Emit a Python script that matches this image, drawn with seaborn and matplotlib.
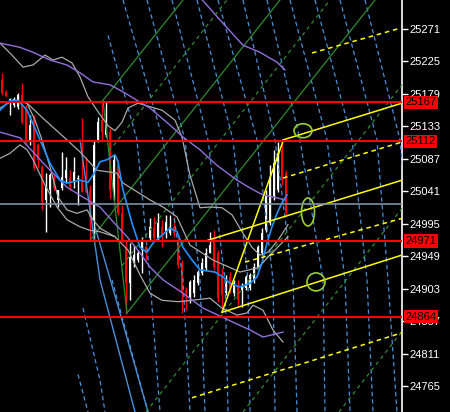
import pandas as pd
import matplotlib
matplotlib.use("Agg")
import matplotlib.pyplot as plt
import matplotlib.transforms as mtransforms
from matplotlib.patches import Ellipse
import seaborn as sns

plt.rcParams['font.family'] = ['Liberation Sans Narrow', 'DejaVu Sans Condensed', 'Liberation Sans']

# --- candles (bar index 0..71) ---
opens = [25199, 25182, 25166, 25163, 25160, 25178, 25161, 25111, 25145, 25107,
         25076, 25029, 25043, 25062, 25029, 25046, 25060, 25060, 25054, 25059,
         25057, 25053, 25043, 25001, 25114, 25142, 25121, 25125, 25040, 25079,
         25011, 24962, 24911, 24940, 24944, 24958, 24962, 24975, 24990, 24975,
         24991, 24982, 24982, 24991, 24972, 24940, 24902, 24892, 24897, 24911,
         24926, 24933, 24954, 24969, 24954, 24923, 24897, 24920, 24897, 24909,
         24902, 24904, 24904, 24916, 24934, 24954, 24986, 24996, 25034, 25043,
         25100, 25067]
highs = [25209, 25185, 25173, 25175, 25181, 25195, 25163, 25149, 25149, 25110,
         25079, 25067, 25067, 25064, 25043, 25097, 25090, 25071, 25090, 25064,
         25145, 25090, 25050, 25114, 25146, 25171, 25168, 25131, 25093, 25086,
         25022, 24972, 24968, 24965, 24958, 24977, 24965, 25004, 25005, 25011,
         25001, 25008, 25008, 25005, 24979, 24944, 24906, 24916, 24923, 24930,
         24947, 24961, 24984, 24986, 24958, 24933, 24923, 24927, 24916, 24916,
         24911, 24923, 24926, 24940, 24965, 24989, 25043, 25079, 25100, 25111,
         25114, 25071]
lows = [25178, 25175, 25149, 25160, 25158, 25137, 25107, 25107, 25071, 25074,
        25015, 24984, 25019, 25043, 25019, 25043, 25053, 25043, 25046, 25022,
        25040, 25039, 24972, 24972, 25111, 25111, 25118, 25032, 25029, 25008,
        24969, 24868, 24887, 24934, 24941, 24926, 24944, 24972, 24972, 24972,
        24962, 24975, 24979, 24977, 24933, 24869, 24873, 24883, 24892, 24909,
        24923, 24930, 24954, 24930, 24885, 24878, 24895, 24897, 24893, 24878,
        24878, 24902, 24902, 24911, 24933, 24951, 24984, 24994, 25029, 25040,
        25050, 25008]
closes = [25181, 25176, 25172, 25172, 25178, 25139, 25111, 25135, 25074, 25086,
          25026, 25047, 25064, 25046, 25043, 25062, 25071, 25047, 25069, 25060,
          25040, 25040, 25005, 25107, 25139, 25125, 25138, 25043, 25086, 25011,
          24972, 24911, 24948, 24951, 24954, 24969, 24954, 24991, 24975, 24996,
          24977, 24998, 24991, 24982, 24937, 24897, 24897, 24913, 24916, 24927,
          24940, 24954, 24965, 24934, 24890, 24895, 24911, 24902, 24911, 24887,
          24906, 24920, 24923, 24934, 24962, 24982, 25036, 25062, 25081, 25095,
          25057, 25011]

# --- indicator lines (bar, price) ---
ma_bars = [-0.5, 2, 4, 6.25, 9.5, 12, 14.5, 16.25, 19.5, 21.5, 22.75, 24.5, 26.25,
           28.25, 29, 30.25, 32.5, 34.5, 36.25, 37.75, 40, 42, 43.75, 45.25, 47.5,
           49.5, 53.25, 55.25, 57, 59.5, 62, 63.75, 65, 66.25, 67.5, 68.75, 70, 71.25]
ma_vals = [25156, 25170, 25170, 25156, 25114, 25081, 25057, 25053, 25057, 25054,
           25064, 25083, 25086, 25093, 25083, 25043, 24996, 24962, 24955, 24968,
           24979, 24989, 24984, 24962, 24944, 24930, 24927, 24920, 24911, 24906,
           24911, 24920, 24940, 24968, 24991, 25010, 25025, 25036]

band_up_bars = [-0.5, 2.5, 5.25, 7.75, 10.75, 12.75, 15, 17.5, 19.5, 21.5, 23.75, 26.5,
                28.25, 30, 31.5, 34, 37, 40, 43.25, 45, 47, 49.5, 52, 55, 57.5, 60,
                62.5, 64.5, 66.5, 69, 71.5]
band_up_vals = [25251, 25234, 25217, 25220, 25234, 25227, 25231, 25223, 25203, 25175,
                25156, 25134, 25127, 25139, 25159, 25166, 25161, 25156, 25142, 25118,
                25064, 25018, 25019, 25018, 25008, 24984, 24962, 24951, 24955, 24972,
                24994]
band_mid_bars = [6.25, 10.75, 16.25, 19.5, 23.75, 28.75, 30.25, 37, 40.25, 43.75, 47,
                 52.75, 59.5, 64, 67, 71.5]
band_mid_vals = [25166, 25142, 25114, 25097, 25071, 25067, 25053, 25029, 25019, 25005,
                 24965, 24944, 24927, 24933, 24951, 24977]
band_lo_bars = [-0.5, 2.75, 6.25, 8.25, 10, 12, 14, 16.25, 18.75, 21.25, 22.75, 24.5,
                28.25, 31.5, 34.5, 37, 40, 44, 47.5, 52, 55, 58.75, 61.25, 62.75,
                65.25, 67.75, 70.25]
band_lo_vals = [25159, 25170, 25166, 25142, 25114, 25076, 25033, 25015, 25010, 25015,
                25001, 24989, 24977, 24958, 24923, 24897, 24887, 24885, 24887, 24890,
                24876, 24866, 24869, 24880, 24873, 24845, 24828]
band_lo2_bars = [-0.5, 2, 4.5, 6.25, 7.75, 10.75, 13.75, 16.25, 19.5, 22, 24.5, 28.25]
band_lo2_vals = [25088, 25095, 25107, 25100, 25086, 25050, 25019, 25001, 24991, 24986,
                 24984, 24977]

slow_top_bars = [49, 55.25, 60.25, 64.5, 68.75, 70.75]
slow_top_vals = [25319, 25279, 25248, 25238, 25224, 25213]
slow_mid_bars = [-0.5, 4.5, 7.75, 12, 16.25, 19.5, 22.75, 27, 30.25, 33.75, 37, 42,
                 45.25, 49.5, 53.75, 58.75, 62, 65.25, 68.75, 70.75]
slow_mid_vals = [25251, 25245, 25238, 25227, 25220, 25209, 25196, 25192, 25182, 25170,
                 25159, 25135, 25118, 25100, 25078, 25057, 25046, 25036, 25032, 25029]
slow_lo_bars = [-0.5, 4.5, 7.75, 12, 16.25, 20.25, 24.5, 27, 31.25, 34.5, 37, 40.25,
                45.25, 50.25, 57.75, 62, 65.25, 70.25]
slow_lo_vals = [25125, 25117, 25097, 25071, 25047, 25033, 25019, 25003, 24977, 24954,
                24934, 24916, 24897, 24876, 24856, 24845, 24835, 24842]

# --- horizontal levels ---
red_levels = [25167, 25112, 24971, 24864]
gray_level = 25023
tick_vals = [25271, 25225, 25179, 25133, 25087, 25041, 24995, 24949, 24903, 24857,
             24811, 24765]

# --- drawn objects ---
fan_prices = [25312, 25114, 24916, 24729]
fan_bars = [[30.25, 40.25, 45.25, 47], [36.25, 45.75, 49.5, 50.75],
            [42.5, 51.5, 55.75, 56.5], [48.75, 57.75, 61.5, 62],
            [54, 63.75, 67.75, 68.25], [60.25, 68.25, 72.75, 73.75],
            [66.25, 74.5, 80.25, 80.75], [72, 81.25, 85.75, 87],
            [78.25, 87.5, 91.25, 92.75], [84.5, 93.75, 96.5, 98.75],
            [90.75, 99.5, 103, 105]]
left_dashed = [([26.5, 33.75, 37, 39.5], [25262, 25114, 24916, 24729]),
               ([27.5, 36.5], [24916, 24729]),
               ([20.25, 24.5, 25.75], [24876, 24774, 24729]),
               ([19, 21.5], [24782, 24729])]
left_solid = [([19.5, 24.5, 33.25], [25114, 24916, 24729]),
              ([23.25, 30, 36.5], [24991, 24859, 24729])]

green_solid = [([31.25, 93.25], [24869, 25312]), ([25.25, 45.25], [25170, 25312]),
               ([22, 69.5], [24972, 25312]), ([31.25, 25.25], [24869, 25170])]
green_dashed = [([26.75, 56.25], [25098, 25312]), ([30, 82], [24936, 25312]),
                ([36, 100], [24729, 25192]), ([60.25, 100], [24729, 25017]),
                ([84.25, 100], [24729, 24843])]

yellow_solid = [([70.25, 100], [25114, 25166]), ([51.5, 100], [24972, 25057]),
                ([55, 100], [24870, 24951]), ([55, 70.25], [24870, 25112])]
yellow_dashed = [([77.5, 99.5], [25237, 25272]), ([70.25, 100], [25060, 25111]),
                 ([60.75, 100], [24941, 25003]), ([47.5, 100], [24749, 24841])]

circles = [(75.25, 25127, 4.5, 19.8), (76.5, 25012, 3.25, 39.6), (78.5, 24913, 4.5, 25.5)]


def draw(ax, xs, ys, color, lw=1.0, dash=None, z=3):
    df = pd.DataFrame({'bar': xs, 'price': ys})
    sns.lineplot(data=df, x='bar', y='price', color=color, lw=lw, ax=ax,
                 sort=False, estimator=None, legend=False, zorder=z)
    if dash:
        ax.lines[-1].set_linestyle((0, dash))


fig = plt.figure(figsize=(4.5, 4.12), dpi=100, facecolor='black')
ax = fig.add_axes([0, 0, 402 / 450, 1])
ax.set_facecolor('black')

# candles
for i in range(len(opens)):
    o, h, l, c = opens[i], highs[i], lows[i], closes[i]
    col = 'white' if c >= o else '#ff0000'
    ax.vlines(i, l, h, color=col, lw=1, zorder=2)
    ax.bar(i, max(abs(c - o), 1.5), bottom=min(o, c), width=0.7, color=col,
           edgecolor='none', zorder=2)

# drawn objects
blue_d = '#4a8fd6'
for bars in fan_bars:
    draw(ax, bars, fan_prices, blue_d, lw=0.9, dash=(3.5, 2.5), z=3)
for xs, ys in left_dashed:
    draw(ax, xs, ys, blue_d, lw=0.9, dash=(3.5, 2.5), z=3)
for xs, ys in left_solid:
    draw(ax, xs, ys, '#4a8fd6', lw=1.0, z=3)
for xs, ys in green_solid:
    draw(ax, xs, ys, '#2e8b2e', lw=0.9, z=3)
for xs, ys in green_dashed:
    draw(ax, xs, ys, '#2e8b2e', lw=0.9, dash=(3, 3), z=3)

# indicators
draw(ax, band_up_bars, band_up_vals, '#a9a9a9', lw=0.9, z=4)
draw(ax, band_mid_bars, band_mid_vals, '#a9a9a9', lw=0.9, z=4)
draw(ax, band_lo_bars, band_lo_vals, '#a9a9a9', lw=0.9, z=4)
draw(ax, band_lo2_bars, band_lo2_vals, '#a9a9a9', lw=0.9, z=4)
draw(ax, slow_top_bars, slow_top_vals, '#9370db', lw=1.0, z=4)
draw(ax, slow_mid_bars, slow_mid_vals, '#9370db', lw=1.0, z=4)
draw(ax, slow_lo_bars, slow_lo_vals, '#9370db', lw=1.0, z=4)
draw(ax, ma_bars, ma_vals, '#1e90ff', lw=1.2, z=4)

for xs, ys in yellow_solid:
    draw(ax, xs, ys, '#ffff00', lw=1.1, z=5)
for xs, ys in yellow_dashed:
    draw(ax, xs, ys, '#ffff00', lw=1.1, dash=(3, 2.5), z=5)

for cx, cy, w, h in circles:
    ax.add_patch(Ellipse((cx, cy), w, h, fill=False, ec='#9acd32', lw=1.2, zorder=5))

for v in red_levels:
    ax.axhline(v, color='#ff0000', lw=1.5, zorder=6)
ax.axhline(gray_level, color='#8090a0', lw=1.2, zorder=6)

ax.set_xlim(-0.5, 100)
ax.set_ylim(24728.9, 25312.0)
ax.set_xlabel('')
ax.set_ylabel('')
for s in ['left', 'top', 'bottom']:
    ax.spines[s].set_visible(False)
ax.spines['right'].set_color('white')
ax.spines['right'].set_linewidth(1.2)
ax.yaxis.tick_right()
ax.set_yticks(tick_vals)
ax.set_yticklabels([str(t) for t in tick_vals])
ax.tick_params(axis='y', colors='white', length=4, width=1, labelsize=8, pad=1)
ax.set_xticks([])

trans = mtransforms.blended_transform_factory(ax.transAxes, ax.transData)
for v in red_levels:
    ax.text(1.008, v, str(v), transform=trans, ha='left', va='center', fontsize=8,
            color='black', clip_on=False, zorder=10,
            bbox=dict(boxstyle='square,pad=0.15', fc='#ff0000', ec='none'))

fig.savefig('out.png', dpi=100, facecolor='black')
